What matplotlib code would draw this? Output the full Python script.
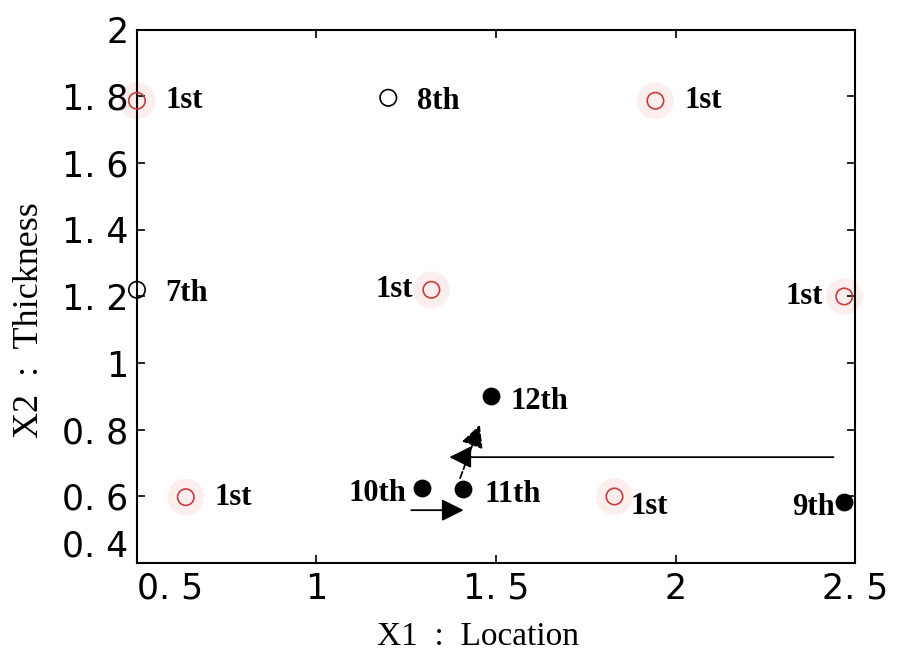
import numpy as np
import matplotlib.pyplot as plt

# first-generation candidates (red open circles)
first_x = [0.50, 0.636, 1.32, 1.944, 2.47, 1.83]
first_y = [1.787, 0.598, 1.22, 1.787, 1.20, 0.60]
first_lbl_dx = [0.08, 0.08, -0.05, 0.08, -0.06, 0.045]
first_lbl_dy = [0.0, 0.0, 0.0, 0.0, 0.0, -0.03]
first_ha = ['left', 'left', 'right', 'left', 'right', 'left']

# later candidates, open
open_x = [0.50, 1.20]
open_y = [1.22, 1.796]
open_lbl = ['7th', '8th']

# later candidates, filled
fill_x = [2.47, 1.294, 1.408, 1.486]
fill_y = [0.583, 0.625, 0.622, 0.90]
fill_lbl = ['9th', '10th', '11th', '12th']
fill_lbl_dx = [-0.025, -0.045, 0.06, 0.055]
fill_ha = ['right', 'right', 'left', 'left']

# arrows: (x0, y0, x1, y1, linestyle)
arrows = [
    (2.44, 0.718, 1.37, 0.718, '-'),
    (1.264, 0.559, 1.41, 0.559, '-'),
    (1.40, 0.655, 1.455, 0.815, '--'),
]

xticks = [0.5, 1, 1.5, 2, 2.5]
xtick_lbl = ['0. 5', '1', '1. 5', '2', '2. 5']
yticks = [0.4, 0.6, 0.8, 1.0, 1.2, 1.4, 1.6, 1.8, 2.0]
ytick_lbl = ['0. 4', '0. 6', '0. 8', '1', '1. 2', '1. 4', '1. 6', '1. 8', '2']

serif = 'Liberation Serif'
fig = plt.figure(figsize=(9.01, 6.61), dpi=100)
ax = fig.add_axes([0.152, 0.148, 0.797, 0.807])

# faint pink halo round the red circles
ax.scatter(first_x, first_y, s=700, marker='o', color='#fdeeee', edgecolors='none',
           zorder=1, clip_on=False)
ax.scatter(first_x, first_y, s=140, facecolors='none', edgecolors='#c83c3c',
           linewidths=1.2, zorder=3, clip_on=False)
for x, y, dx, dy, ha in zip(first_x, first_y, first_lbl_dx, first_lbl_dy, first_ha):
    ax.text(x + dx, y + dy, '1st', ha=ha, va='center', family=serif,
            fontweight='bold', fontsize=22)

ax.scatter(open_x, open_y, s=140, facecolors='none', edgecolors='black',
           linewidths=1.2, zorder=3, clip_on=False)
for x, y, t in zip(open_x, open_y, open_lbl):
    ax.text(x + 0.08, y - 0.01, t, ha='left', va='center', family=serif,
            fontweight='bold', fontsize=22)

ax.scatter(fill_x, fill_y, s=140, color='black', zorder=3, clip_on=False)
for x, y, dx, t, ha in zip(fill_x, fill_y, fill_lbl_dx, fill_lbl, fill_ha):
    ax.text(x + dx, y - 0.015, t, ha=ha, va='center', family=serif,
            fontweight='bold', fontsize=22)

for x0, y0, x1, y1, ls in arrows:
    ax.annotate('', xy=(x1, y1), xytext=(x0, y0),
                arrowprops=dict(arrowstyle='-|>', color='black', lw=1.3,
                                linestyle=ls, mutation_scale=34,
                                shrinkA=0, shrinkB=0))

ax.set_xlim(0.5, 2.5)
ax.set_ylim(0.4, 2.0)
ax.set_xticks(xticks)
ax.set_xticklabels(xtick_lbl, fontsize=25)
ax.set_yticks(yticks)
ax.set_yticklabels(ytick_lbl, fontsize=25)
ax.get_xticklabels()[0].set_ha('left')
ax.get_yticklabels()[0].set_va('bottom')
ax.tick_params(direction='in', top=True, right=True, length=6, width=1.2, pad=6)
for s in ax.spines.values():
    s.set_linewidth(1.5)

ax.set_xlabel('X1  :  Location', family=serif, fontsize=24)
ax.set_ylabel('X2  :  Thickness', family=serif, fontsize=26)
ax.xaxis.set_label_coords(0.475, -0.11)
ax.yaxis.set_label_coords(-0.127, 0.455)

fig.savefig('out.png', dpi=100)
